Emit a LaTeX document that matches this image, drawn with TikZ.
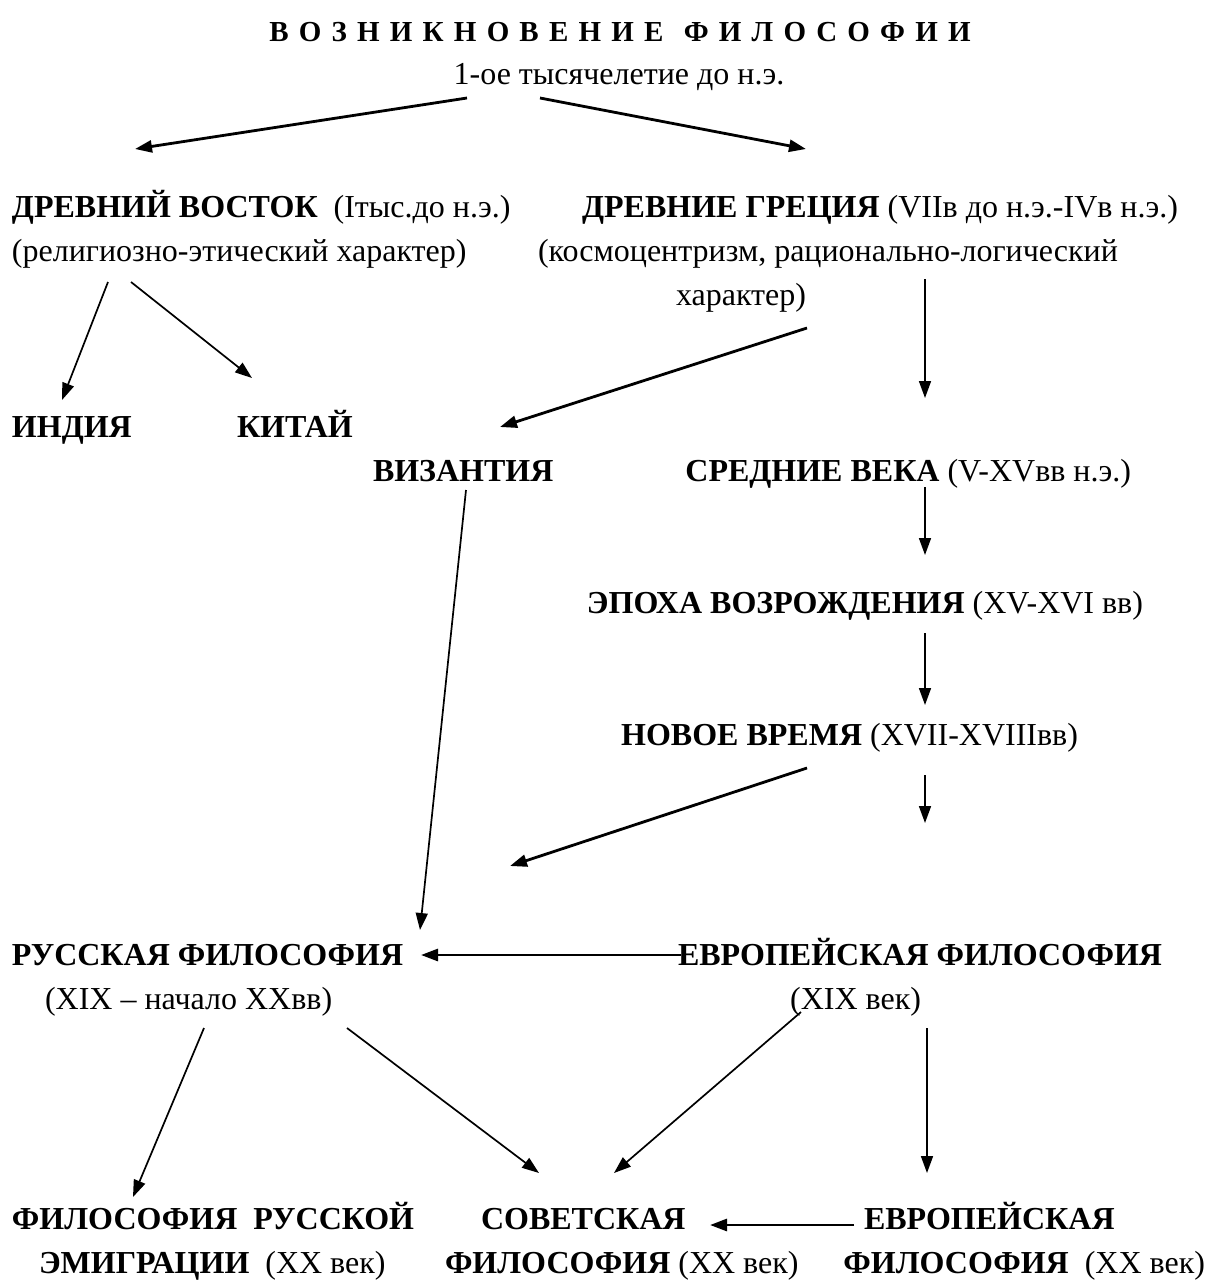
\documentclass[tikz,border=0pt]{standalone}
\usepackage{fontspec}
\setmainfont{Liberation Serif}[BoldFont={Liberation Serif Bold}]
\usetikzlibrary{arrows.meta}
\newcommand\myfs{\fontsize{32}{38}\selectfont}
\newcommand\ttlfs{\fontsize{29}{34}\selectfont}
\newcommand\tg{\hspace{10.2pt}}
\begin{document}
\begin{tikzpicture}[x=1pt,y=-1pt,
  lbl/.style={inner sep=0pt, outer sep=0pt, font=\myfs, anchor=base west},
  lble/.style={inner sep=0pt, outer sep=0pt, font=\myfs, anchor=base east},
  arrA/.style={line width=2.8pt, -{Triangle[length=17pt,width=12pt]}},
  arrB/.style={line width=1.7pt, -{Triangle[length=17pt,width=12pt]}}]
\useasboundingbox[fill=white] (0,0) rectangle (1208,1280);

% texts
\node[inner sep=0pt, font=\ttlfs\bfseries, anchor=base] (title) at (620,41)
  {В\tg О\tg З\tg Н\tg И\tg К\tg Н\tg О\tg В\tg Е\tg Н\tg И\tg Е\tg\tg Ф\tg И\tg Л\tg О\tg С\tg О\tg Ф\tg И\tg И};
\node[inner sep=0pt, font=\myfs, anchor=base] (sub) at (619,84) {1-ое тысячелетие до н.э.};

\node[lbl] (vost) at (12,217) {\textbf{ДРЕВНИЙ ВОСТОК}\hspace{8pt} (Iтыс.до н.э.)};
\node[lbl] (vost2) at (12,261) {(религиозно-этический характер)};
\node[lble] (grec) at (1178,217) {\textbf{ДРЕВНИЕ ГРЕЦИЯ} (VIIв до н.э.-IVв н.э.)};
\node[lble] (grec2) at (1118,261) {(космоцентризм, рационально-логический};
\node[lble] (grec3) at (806,305) {характер)};

\node[lbl, font=\myfs\bfseries] (ind) at (12,437) {ИНДИЯ};
\node[lbl, font=\myfs\bfseries] (kit) at (237,437) {КИТАЙ};
\node[lbl, font=\myfs\bfseries] (viz) at (373,481) {ВИЗАНТИЯ};
\node[lble] (sred) at (1131,481) {\textbf{СРЕДНИЕ ВЕКА} (V-XVвв н.э.)};
\node[lble] (epo) at (1143,613) {\textbf{ЭПОХА ВОЗРОЖДЕНИЯ} (XV-XVI вв)};
\node[lble] (nov) at (1078,745) {\textbf{НОВОЕ ВРЕМЯ} (XVII-XVIIIвв)};

\node[lbl, font=\myfs\bfseries] (rus) at (12,965) {РУССКАЯ ФИЛОСОФИЯ};
\node[lbl] (rus2) at (45,1009) {(XIX – начало XXвв)};
\node[lble, font=\myfs\bfseries] (evr) at (1162,965) {ЕВРОПЕЙСКАЯ ФИЛОСОФИЯ};
\node[lble] (evr2) at (921,1009) {(XIX век)};

\node[lbl, font=\myfs\bfseries] (emi) at (12,1229) {ФИЛОСОФИЯ\hspace{8pt} РУССКОЙ};
\node[lbl] (emi2) at (39,1273) {\textbf{ЭМИГРАЦИИ}\hspace{8pt} (XX век)};
\node[lbl, font=\myfs\bfseries] (sov) at (481,1229) {СОВЕТСКАЯ};
\node[lbl] (sov2) at (445,1273) {\textbf{ФИЛОСОФИЯ} (XX век)};
\node[lbl, font=\myfs\bfseries] (evx) at (864,1229) {ЕВРОПЕЙСКАЯ};
\node[lble] (evx2) at (1205,1273) {\textbf{ФИЛОСОФИЯ}\hspace{8pt} (XX век)};

% arrow end points
\coordinate (a1s) at (467,98);  \coordinate (a1e) at (135,149);
\coordinate (a2s) at (540,98);  \coordinate (a2e) at (806,149);
\coordinate (a3s) at (108,282); \coordinate (a3e) at (62,400);
\coordinate (a4s) at (131,282); \coordinate (a4e) at (252,378);
\coordinate (a5s) at (807,328); \coordinate (a5e) at (500,427);
\coordinate (a6s) at (925,279); \coordinate (a6e) at (925,398);
\coordinate (a7s) at (466,490); \coordinate (a7e) at (420,930);
\coordinate (a8s) at (925,487); \coordinate (a8e) at (925,555);
\coordinate (a9s) at (925,633); \coordinate (a9e) at (925,705);
\coordinate (a10s) at (807,768); \coordinate (a10e) at (510,866);
\coordinate (a11s) at (925,775); \coordinate (a11e) at (925,823);
\coordinate (a12s) at (681,955); \coordinate (a12e) at (421,955);
\coordinate (a13s) at (204,1028); \coordinate (a13e) at (133,1197);
\coordinate (a14s) at (347,1028); \coordinate (a14e) at (539,1173);
\coordinate (a15s) at (801,1012); \coordinate (a15e) at (614,1173);
\coordinate (a16s) at (927,1028); \coordinate (a16e) at (927,1173);
\coordinate (a17s) at (854,1225); \coordinate (a17e) at (710,1225);

\draw[arrA] (a1s) -- (a1e);
\draw[arrA] (a2s) -- (a2e);
\draw[arrB] (a3s) -- (a3e);
\draw[arrB] (a4s) -- (a4e);
\draw[arrA] (a5s) -- (a5e);
\draw[arrB] (a6s) -- (a6e);
\draw[arrB] (a7s) -- (a7e);
\draw[arrB] (a8s) -- (a8e);
\draw[arrB] (a9s) -- (a9e);
\draw[arrA] (a10s) -- (a10e);
\draw[arrB] (a11s) -- (a11e);
\draw[arrA] (a12s) -- (a12e);
\draw[arrB] (a13s) -- (a13e);
\draw[arrB] (a14s) -- (a14e);
\draw[arrB] (a15s) -- (a15e);
\draw[arrB] (a16s) -- (a16e);
\draw[arrA] (a17s) -- (a17e);
\end{tikzpicture}
\end{document}
